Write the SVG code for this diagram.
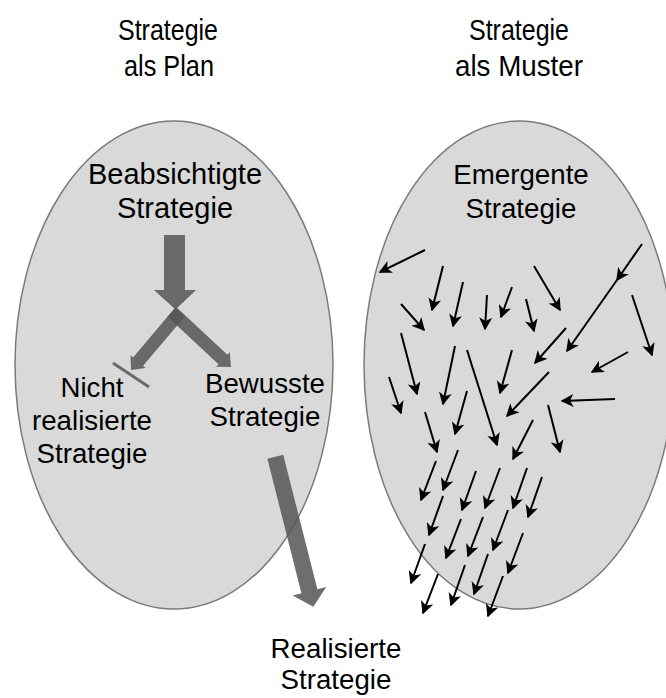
<svg xmlns="http://www.w3.org/2000/svg" width="666" height="698" viewBox="0 0 666 698">
  <style>
    .field { fill: #d9d9d9; stroke: #7a7a7a; stroke-width: 1.5; }
    .label { font-family: "Liberation Sans", Arial, sans-serif; fill: #000; text-anchor: middle; }
    .title { font-size: 30px; }
    .inner { font-size: 27.7px; }
    .big { font-size: 29px; }
    .flow { fill: #555; fill-opacity: 0.85; }
    .stop { stroke: #555; stroke-opacity: 0.85; stroke-width: 3; }
    .drift { stroke: #000; stroke-width: 2; fill: none; marker-end: url(#tip); }
  </style>
  <defs>
    <marker id="tip" viewBox="0 0 13 13" markerWidth="13" markerHeight="13" refX="11.5" refY="6.5" orient="auto" markerUnits="userSpaceOnUse">
      <path d="M0,0 L13,6.5 L0,13 L3.5,6.5 Z" fill="#000"/>
    </marker>
  </defs>

  <rect width="666" height="698" fill="#fff"/>

  <!-- left field: strategy as plan -->
  <g id="plan">
    <text class="label title" x="168" y="40" textLength="100" lengthAdjust="spacingAndGlyphs">Strategie</text>
    <text class="label title" x="169" y="76" textLength="90" lengthAdjust="spacingAndGlyphs">als Plan</text>
    <ellipse class="field" cx="174" cy="365" rx="159" ry="244"/>
  </g>

  <!-- right field: strategy as pattern -->
  <g id="muster">
    <text class="label title" x="519" y="40" textLength="100" lengthAdjust="spacingAndGlyphs">Strategie</text>
    <text class="label title" x="519" y="76" textLength="128" lengthAdjust="spacingAndGlyphs">als Muster</text>
    <ellipse class="field" cx="519" cy="365" rx="155" ry="244"/>
  </g>

  <g id="beabsichtigt">
    <text class="label big" x="175" y="184">Beabsichtigte</text>
    <text class="label big" x="175" y="218">Strategie</text>
  </g>

  <g id="emergent">
    <text class="label inner" x="521" y="184">Emergente</text>
    <text class="label inner" x="521" y="218">Strategie</text>
  </g>

  <g id="nicht-realisiert">
    <text class="label inner" x="92" y="397">Nicht</text>
    <text class="label inner" x="92" y="430">realisierte</text>
    <text class="label inner" x="92" y="463">Strategie</text>
  </g>

  <g id="bewusst">
    <text class="label inner" x="265" y="393">Bewusste</text>
    <text class="label inner" x="265" y="426">Strategie</text>
  </g>

  <g id="realisiert">
    <text class="label inner" x="336" y="658">Realisierte</text>
    <text class="label inner" x="336" y="689">Strategie</text>
  </g>

  <g id="connectors">
    <!-- deliberate path -->
    <polygon class="flow" points="164,235 185,235 185,290 196,290 175.5,309.5 154,290 164,290"/>
    <polygon class="flow" points="185,316.2 143.1,365.8 145.7,368.1 131,370 130.5,355.2 133.1,357.4 175,307.8"/>
    <polygon class="flow" points="176.4,307.2 227.4,354.8 229.8,352.2 231,367 216.1,366.8 218.5,364.3 167.6,316.8"/>
    <line class="stop" x1="113" y1="363" x2="149" y2="387"/>
    <polygon class="flow" points="267.4,458.7 283.2,454.7 317.4,589.2 326.2,587 313.3,606.7 292.6,595.4 301.4,593.2"/>

    <!-- emergent drift -->
    <line class="drift" x1="425" y1="250" x2="380" y2="272"/>
    <line class="drift" x1="443" y1="266" x2="432" y2="310"/>
    <line class="drift" x1="463" y1="282" x2="453" y2="326"/>
    <line class="drift" x1="487" y1="295" x2="485" y2="329"/>
    <line class="drift" x1="512" y1="287" x2="501" y2="317"/>
    <line class="drift" x1="401" y1="304" x2="424" y2="330"/>
    <line class="drift" x1="526" y1="299" x2="534" y2="331"/>
    <line class="drift" x1="534" y1="266" x2="560" y2="310"/>
    <line class="drift" x1="642" y1="244" x2="617" y2="280"/>
    <line class="drift" x1="617" y1="280" x2="567" y2="351"/>
    <line class="drift" x1="632" y1="295" x2="652" y2="355"/>
    <line class="drift" x1="628" y1="352" x2="592" y2="372"/>
    <line class="drift" x1="615" y1="399" x2="562" y2="401"/>
    <line class="drift" x1="566" y1="328" x2="535" y2="363"/>
    <line class="drift" x1="549" y1="372" x2="507" y2="416"/>
    <line class="drift" x1="401" y1="333" x2="417" y2="394"/>
    <line class="drift" x1="389" y1="377" x2="401" y2="413"/>
    <line class="drift" x1="455" y1="346" x2="443" y2="404"/>
    <line class="drift" x1="512" y1="350" x2="500" y2="393"/>
    <line class="drift" x1="467" y1="350" x2="497" y2="445"/>
    <line class="drift" x1="467" y1="391" x2="455" y2="434"/>
    <line class="drift" x1="425" y1="412" x2="437" y2="452"/>
    <line class="drift" x1="548" y1="405" x2="560" y2="452"/>
    <line class="drift" x1="533" y1="420" x2="513" y2="459"/>
    <line class="drift" x1="458" y1="450" x2="443" y2="490"/>
    <line class="drift" x1="436" y1="461" x2="421" y2="500"/>
    <line class="drift" x1="476" y1="471" x2="462" y2="510"/>
    <line class="drift" x1="500" y1="468" x2="485" y2="508"/>
    <line class="drift" x1="527" y1="468" x2="513" y2="508"/>
    <line class="drift" x1="542" y1="477" x2="528" y2="517"/>
    <line class="drift" x1="443" y1="496" x2="429" y2="535"/>
    <line class="drift" x1="461" y1="519" x2="446" y2="558"/>
    <line class="drift" x1="483" y1="517" x2="468" y2="556"/>
    <line class="drift" x1="508" y1="510" x2="493" y2="550"/>
    <line class="drift" x1="523" y1="533" x2="508" y2="573"/>
    <line class="drift" x1="425" y1="544" x2="411" y2="583"/>
    <line class="drift" x1="438" y1="574" x2="423" y2="613"/>
    <line class="drift" x1="465" y1="565" x2="451" y2="605"/>
    <line class="drift" x1="488" y1="554" x2="474" y2="594"/>
    <line class="drift" x1="503" y1="576" x2="488" y2="616"/>
  </g>
</svg>
